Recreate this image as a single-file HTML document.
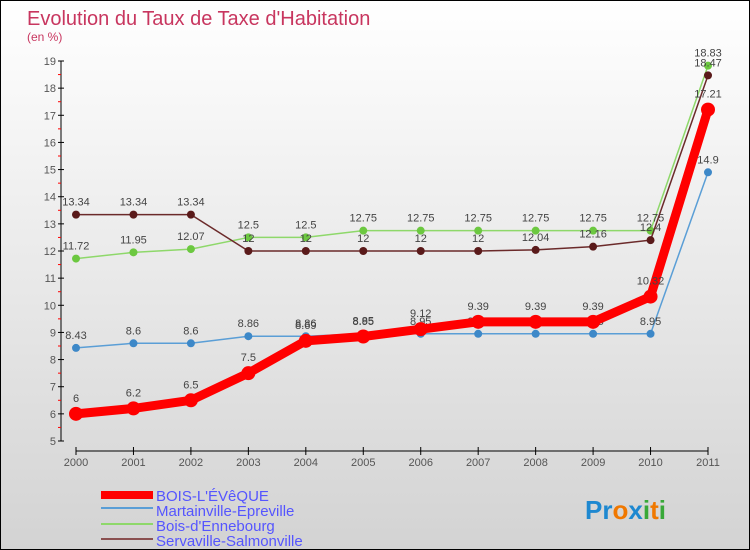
<!DOCTYPE html>
<html><head><meta charset="utf-8"><style>
body{margin:0}
#c{width:750px;height:550px;position:relative;box-sizing:border-box;border:1px solid #000;background:linear-gradient(#fff,#d3d3d3);font-family:"Liberation Sans",sans-serif;overflow:hidden}
</style></head><body>
<div id="c">
<svg id="s" width="750" height="550" style="position:absolute;left:0;top:0">
<text x="26" y="24" font-size="20" fill="#c8365f">Evolution du Taux de Taxe d'Habitation</text>
<text x="26" y="40" font-size="12" fill="#c8365f">(en %)</text>
<g id="ax"></g><g id="ser"></g>
<g font-size="15" fill="#5555ff">
<rect x="100" y="490" width="52" height="8" fill="red"/>
<text x="155" y="500">BOIS-L'ÉVêQUE</text>
<rect x="100" y="506" width="52" height="2" fill="#5a9ed6"/>
<text x="155" y="515">Martainville-Epreville</text>
<rect x="100" y="522" width="52" height="2" fill="#8ed86a"/>
<text x="155" y="530">Bois-d'Ennebourg</text>
<rect x="100" y="537" width="52" height="2" fill="#8a5050"/>
<text x="155" y="545">Servaville-Salmonville</text>
</g>
<text x="584" y="518" font-size="26" font-weight="bold"><tspan fill="#1e88d0">Pr</tspan><tspan fill="#f07800">o</tspan><tspan fill="#1e88d0">x</tspan><tspan fill="#38a838">i</tspan><tspan fill="#f07800">t</tspan><tspan fill="#38a838">i</tspan></text>
</svg></div>
<script>
const years=[2000,2001,2002,2003,2004,2005,2006,2007,2008,2009,2010,2011];
const yTicks=[5,6,7,8,9,10,11,12,13,14,15,16,17,18,19];
const boisLeveque=[6,6.2,6.5,7.5,8.69,8.85,9.12,9.39,9.39,9.39,10.32,17.21];
const martainville=[8.43,8.6,8.6,8.86,8.86,8.95,8.95,8.95,8.95,8.95,8.95,14.9];
const boisDennebourg=[11.72,11.95,12.07,12.5,12.5,12.75,12.75,12.75,12.75,12.75,12.75,18.83];
const servaville=[13.34,13.34,13.34,12,12,12,12,12,12.04,12.16,12.4,18.47];
const NS="http://www.w3.org/2000/svg";
const X=i=>75+i*(632/11), Y=v=>60+(19-v)*(380/14);
function mk(t,a,p){const e=document.createElementNS(NS,t);for(const k in a)e.setAttribute(k,a[k]);p.appendChild(e);return e;}
const ax=document.getElementById('ax'),ser=document.getElementById('ser');
const ya=mk('line',{x1:60,y1:Y(19),x2:60,y2:Y(5),stroke:'#000'},ax);


yTicks.forEach(v=>{mk('line',{x1:57,x2:63,y1:Y(v),y2:Y(v),stroke:'#000'},ax);
 if(v<19)mk('line',{x1:57,x2:60,y1:Y(v+0.5),y2:Y(v+0.5),stroke:'red'},ax);
 const t=mk('text',{x:55,y:Y(v)+4,'text-anchor':'end','font-size':11,fill:'#555'},ax);t.textContent=v;
 
 });
const xa=mk('line',{x1:X(0),x2:X(11),y1:450,y2:450,stroke:'#000'},ax);


years.forEach((y,i)=>{mk('line',{x1:X(i),x2:X(i),y1:446,y2:454,stroke:'#000'},ax);
 const t=mk('text',{x:X(i),y:465,'text-anchor':'middle','font-size':11,fill:'#555'},ax);t.textContent=y;
 
 });
function series(d,col,w,r,name,mc){
 const p=mk('polyline',{points:d.map((v,i)=>X(i)+','+Y(v)).join(' '),fill:'none',stroke:col,'stroke-width':w,'stroke-linejoin':'round'},ser);
 
 
 d.forEach((v,i)=>{const c=mk('circle',{cx:X(i),cy:Y(v),r:r,fill:mc||col},ser);
  
  
  const t=mk('text',{x:X(i),y:Y(v)-r-5,'text-anchor':'middle','font-size':11,fill:'#444'},ser);t.textContent=v;
  
  });
}
series(martainville,'#5a9ed6',1.5,4,'martainville','#3d88c8');
series(boisDennebourg,'#8ed86a',1.5,4,'bois-dennebourg','#6cc840');
series(servaville,'#6b2a2a',1.5,4,'servaville','#5a1a1a');
series(boisLeveque,'red',9,7,'bois-leveque');
</script>
</body></html>
